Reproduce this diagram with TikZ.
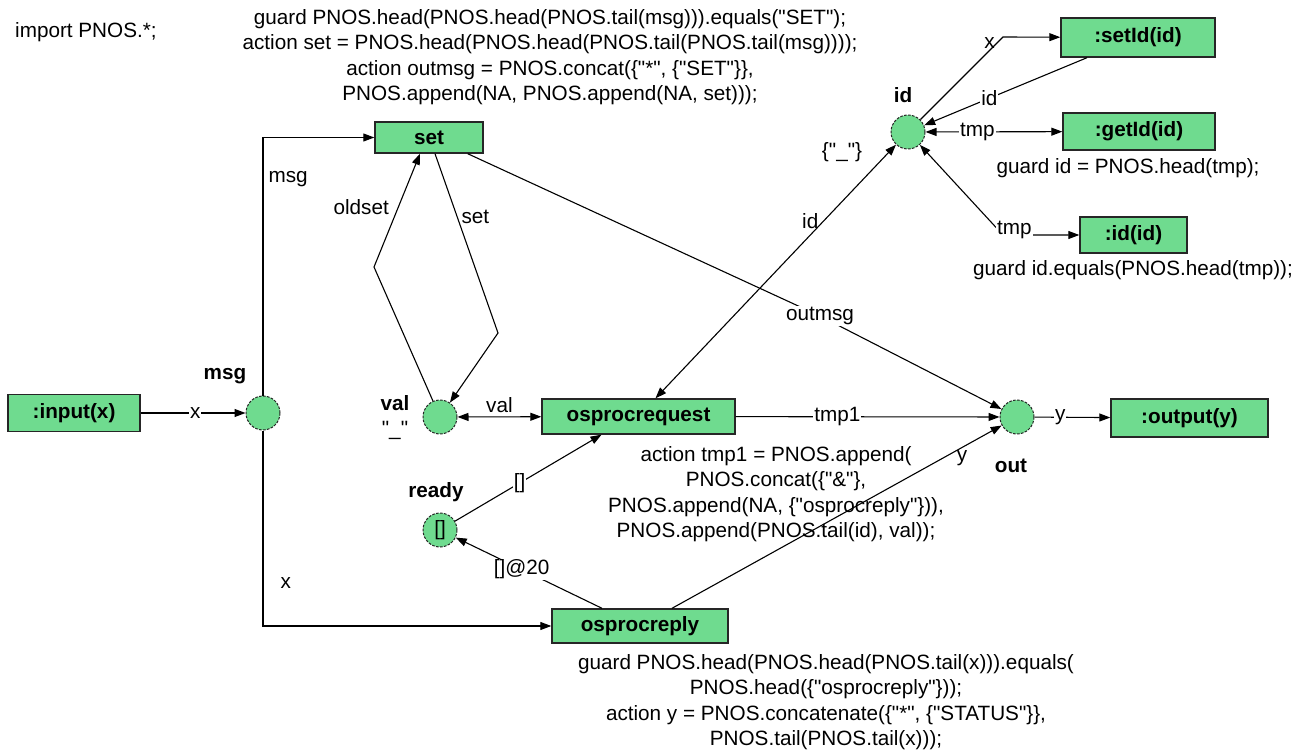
\documentclass[tikz,border=0pt]{standalone}
\usepackage{fontspec}
\setmainfont{Liberation Sans}[Ligatures=TeXOff]
\usetikzlibrary{arrows.meta,calc}
\definecolor{placegreen}{RGB}{111,219,143}
\newcommand{\txtsize}{\fontsize{20.7}{25.5}\selectfont}
\begin{document}
\begin{tikzpicture}[x=1pt,y=-1pt,
  every node/.style={font=\txtsize},
  >={Triangle[length=11pt,width=8pt]},
  trans/.style={draw=black!85, fill=placegreen, line width=1.4pt, inner sep=0pt, font=\txtsize\bfseries},
  place/.style={circle, draw=black!85, fill=placegreen, line width=1pt, dash pattern=on 2.6pt off 1.4pt, minimum size=34pt, inner sep=0pt},
  plabel/.style={font=\txtsize\bfseries, inner sep=0pt},
  lbl/.style={fill=white, inner sep=1pt},
  side/.style={inner sep=1pt},
  arc/.style={line width=1.1pt, ->},
  biarc/.style={line width=1.1pt, <->},
  code/.style={align=center, inner sep=0pt},
]
\fill[white] (0,0) rectangle (1298,754);
\useasboundingbox (0,0) rectangle (1298,754);

% transitions
\node[trans, minimum width=132pt, minimum height=37pt] (input) at (74,413) {:input(x)};
\node[trans, minimum width=108pt, minimum height=31pt] (set) at (429,137.5) {set};
\node[trans, minimum width=193pt, minimum height=35pt] (osprocrequest) at (638.5,416.5) {osprocrequest};
\node[trans, minimum width=176pt, minimum height=34pt] (osprocreply) at (640,626) {osprocreply};
\node[trans, minimum width=157pt, minimum height=38pt] (output) at (1189.5,418) {:output(y)};
\node[trans, minimum width=154pt, minimum height=39pt] (setId) at (1138,37.5) {:setId(id)};
\node[trans, minimum width=152pt, minimum height=37pt] (getId) at (1139,131.5) {:getId(id)};
\node[trans, minimum width=107pt, minimum height=36pt] (idid) at (1133.5,235) {:id(id)};

% places
\node[place] (msg) at (263,413) {};
\node[place] (val) at (440,417) {};
\node[place] (ready) at (440,530) {[]};
\node[place] (out) at (1017,417) {};
\node[place] (id) at (908,132) {};

% place names and initial markings
\node[plabel] (msgname) at (225,376) {msg};
\node[plabel] (valname) at (395,403) {val};
\node[side] (valinit) at (395,430) {"\_"};
\node[plabel] (readyname) at (436,492) {ready};
\node[plabel] (outname) at (1011,466) {out};
\node[plabel] (idname) at (903,95) {id};
\node[side] (idinit) at (842,152) {\{"\_"\}};

% declarations, guards and actions
\node[anchor=west, inner sep=0pt] (imports) at (15,32) {import PNOS.*;};
\node[code] (setcode) at (550,57) {guard PNOS.head(PNOS.head(PNOS.tail(msg))).equals("SET");\\
  action set = PNOS.head(PNOS.head(PNOS.tail(PNOS.tail(msg))));\\
  action outmsg = PNOS.concat(\{"*", \{"SET"\}\},\\
  PNOS.append(NA, PNOS.append(NA, set)));};
\node[code] (reqcode) at (776,494) {action tmp1 = PNOS.append(\\
  PNOS.concat(\{"\&"\},\\
  PNOS.append(NA, \{"osprocreply"\})),\\
  PNOS.append(PNOS.tail(id), val));};
\node[code] (replycode) at (826,702) {guard PNOS.head(PNOS.head(PNOS.tail(x))).equals(\\
  PNOS.head(\{"osprocreply"\}));\\
  action y = PNOS.concatenate(\{"*", \{"STATUS"\}\},\\
  PNOS.tail(PNOS.tail(x)));};
\node[code] (getcode) at (1128,168) {guard id = PNOS.head(tmp);};
\node[code] (idcode) at (1133,270) {guard id.equals(PNOS.head(tmp));};

% arcs
\draw[arc] (input) -- node[lbl, pos=0.52]{x} (msg);
\draw[arc] (msg) |- node[side, pos=0.42, right=4pt]{msg} (set);
\draw[arc] (msg) |- node[side, pos=0.39, right=16pt]{x} (osprocreply);
\draw[arc] ($(set.south)+(6,0)$) -- node[side, pos=0.35, right=3pt]{set} (498,333) -- (val);
\draw[arc] (val) -- (374,267) -- node[side, pos=0.53, left=8pt]{oldset} ($(set.south)+(-9,0)$);
\draw[biarc] (val) -- node[side, midway, above=3pt]{val} (osprocrequest);
\draw[arc] ($(set.south east)+(-16,0)$) -- (820,316) node[lbl]{outmsg} -- (out);
\draw[arc] (osprocrequest) -- node[lbl, pos=0.385]{tmp1} (out);
\draw[arc] (out) -- node[lbl, pos=0.34]{y} (output);
\draw[arc] ($(osprocreply.north)+(32,0)$) -- node[side, pos=0.88, below=2pt]{y} (out);
\draw[arc] ($(osprocreply.north)+(-38,0)$) -- node[lbl, pos=0.55]{[]@20} (ready);
\draw[arc] (ready) -- node[lbl, pos=0.44]{[]} ($(osprocrequest.south)+(-37,0)$);
\draw[biarc] ($(osprocrequest.north)+(17,0)$) -- node[side, pos=0.7, left=4pt]{id} (id);
\draw[arc] (id) -- node[side, pos=0.93, left=1pt]{x} (1003,37) -- (setId);
\draw[arc] ($(setId.south)+(-51,0)$) -- node[lbl, pos=0.6]{id} (id);
\draw[biarc] (id) -- node[lbl, pos=0.38]{tmp} (getId);
\draw[biarc] (id) -- (1003,235) -- node[lbl, pos=0.15, yshift=5pt]{tmp} (idid);
\end{tikzpicture}
\end{document}
